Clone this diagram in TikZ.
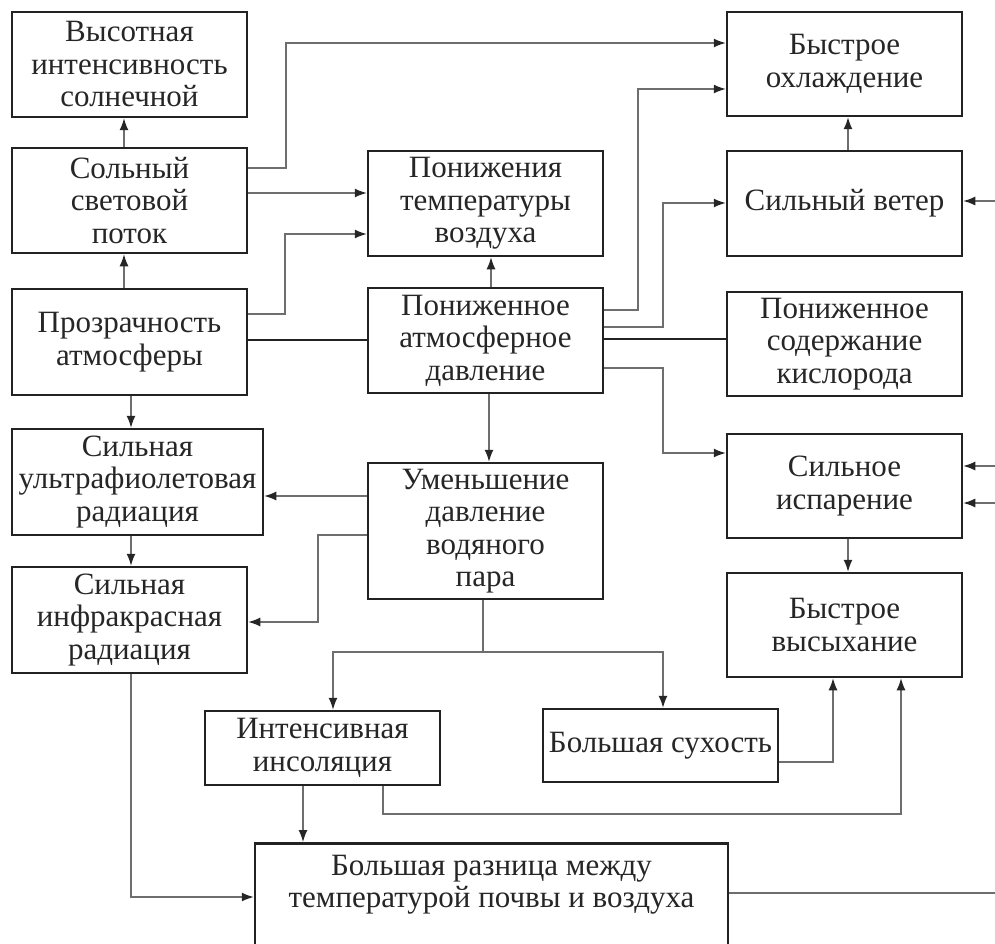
\documentclass[tikz,border=0pt]{standalone}
\usepackage{fontspec}
\setmainfont{Liberation Serif}
\usetikzlibrary{arrows.meta}
\definecolor{boxline}{HTML}{222222}
\definecolor{conline}{HTML}{6E6E6E}
\tikzset{
  box/.style={draw=boxline, line width=2.5pt, rectangle, inner sep=0pt, align=center,
    minimum width=235pt, font=\fontsize{31}{32.5}\selectfont, text=black!85},
  con/.style={draw=conline, line width=1.3pt},
  arr/.style={con, -{Latex[length=12pt,width=9pt,color=black!85]}},
  thick con/.style={draw=boxline, line width=2.5pt},
}
\begin{document}
\begin{tikzpicture}[x=1pt,y=-1pt]
\useasboundingbox (0,0) rectangle (995,944);
\clip (0,0) rectangle (995,944);
% boxes
\node[box, minimum height=105pt] (b1) at (129.5,64.5) {Высотная\\интенсивность\\солнечной};
\node[box, minimum height=105pt] (b2) at (129.5,200.5) {Сольный\\световой\\поток};
\node[box, minimum height=106pt] (b3) at (129.5,342) {Прозрачность\\атмосферы};
\node[box, minimum width=251pt, minimum height=106pt] (b4) at (137.5,482) {Сильная\\ультрафиолетовая\\радиация};
\node[box, minimum height=106pt] (b5) at (129.5,620) {Сильная\\инфракрасная\\радиация};
\node[box, minimum height=105pt] (b6) at (485.5,203.5) {Понижения\\температуры\\воздуха};
\node[box, minimum height=105pt] (b7) at (485.5,340.5) {Пониженное\\атмосферное\\давление};
\node[box, minimum height=136pt] (b8) at (485.5,531) {Уменьшение\\давление\\водяного\\пара};
\node[box, minimum height=104pt] (b9) at (844.5,64) {Быстрое\\охлаждение};
\node[box, minimum height=105pt] (b10) at (844.5,203.5) {Сильный ветер};
\node[box, minimum height=104pt] (b11) at (844.5,344) {Пониженное\\содержание\\кислорода};
\node[box, minimum height=104pt] (b12) at (844.5,486) {Сильное\\испарение};
\node[box, minimum height=104pt] (b13) at (844.5,625) {Быстрое\\высыхание};
\node[box, minimum height=74pt] (b14) at (322.5,748) {Интенсивная\\инсоляция};
\node[box, minimum height=73pt] (b15) at (660.5,745.5) {Большая сухость};
\node[box, minimum width=473pt, minimum height=130pt, anchor=north] (b16) at (491.5,842)
  {Большая разница между\\температурой почвы и воздуха\rule[-54pt]{0pt}{0pt}};
% free ends at the right margin
\coordinate (r1) at (995,201);
\coordinate (r2) at (995,466);
\coordinate (r3) at (995,503);
\coordinate (r4) at (995,893);
% left column
\draw[arr] (b2.north -| 124,0) -- (b1.south -| 124,0);
\draw[arr] (b3.north -| 124,0) -- (b2.south -| 124,0);
\draw[arr] (b2.east |- 0,168) -| (286,43) -- (b9.west |- 0,43);
\draw[arr] (b2.east |- 0,193) -- (b6.west |- 0,193);
\draw[arr] (b3.east |- 0,314) -| (285,234) -- (b6.west |- 0,234);
\draw[thick con] (b3.east |- 0,340) -- (b7.west |- 0,340);
\draw[thick con] (b7.east |- 0,339) -- (b11.west |- 0,339);
\draw[arr] (b3.south -| 131,0) -- (b4.north -| 131,0);
\draw[arr] (b4.south -| 131,0) -- (b5.north -| 131,0);
% centre column
\draw[arr] (b7.north -| 491,0) -- (b6.south -| 491,0);
\draw[arr] (b7.east |- 0,310) -| (638,89) -- (b9.west |- 0,89);
\draw[arr] (b7.east |- 0,327) -| (663,203) -- (b10.west |- 0,203);
\draw[arr] (b7.east |- 0,368) -| (663,453) -- (b12.west |- 0,453);
\draw[arr] (b7.south -| 489,0) -- (b8.north -| 489,0);
\draw[arr] (b8.west |- 0,496) -- (b4.east |- 0,496);
\draw[arr] (b8.west |- 0,535) -| (318,622) -- (b5.east |- 0,622);
\draw[arr] (b8.south -| 483,0) |- (333,652) -- (b14.north -| 333,0);
\draw[arr] (b8.south -| 483,0) |- (663,652) -- (b15.north -| 663,0);
% right column
\draw[arr] (b10.north -| 848,0) -- (b9.south -| 848,0);
\draw[arr] (r1) -- (b10.east |- r1);
\draw[arr] (r2) -- (b12.east |- r2);
\draw[arr] (r3) -- (b12.east |- r3);
\draw[arr] (b12.south -| 848,0) -- (b13.north -| 848,0);
\draw[arr] (b15.east |- 0,762) -| (b13.south -| 833,0);
\draw[arr] (b14.south -| 383,0) |- (901,814) -- (b13.south -| 901,0);
% bottom
\draw[arr] (b14.south -| 303,0) -- (b16.north -| 303,0);
\draw[arr] (b5.south -| 131,0) |- (b16.west |- 0,897);
\draw[con] (b16.east |- r4) -- (r4);
\end{tikzpicture}
\end{document}
